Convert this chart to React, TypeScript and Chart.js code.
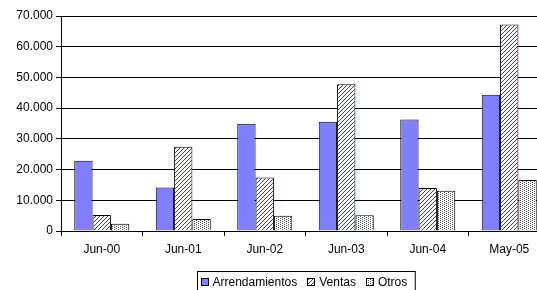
import { useEffect, useRef } from 'react';
import { Chart, registerables } from 'chart.js';

Chart.register(...registerables);

const categories = ['Jun-00', 'Jun-01', 'Jun-02', 'Jun-03', 'Jun-04', 'May-05'];
const arrendamientos = [22900, 14200, 34900, 35600, 36300, 44400];
const ventas = [5200, 27400, 17400, 47800, 14000, 67200];
const otros = [2400, 3900, 5000, 5100, 13100, 16600];
const seriesNames = ['Arrendamientos', 'Ventas', 'Otros'];
const yMin = 0;
const yMax = 70000;
const yStep = 10000;

const FONT = '"Liberation Sans", Arial, sans-serif';

function fmt(v: number): string {
  return String(Math.round(v)).replace(/\B(?=(\d{3})+(?!\d))/g, '.');
}

function makePattern(kind: 'ventas' | 'otros'): CanvasPattern | string {
  const c = document.createElement('canvas');
  const x = c.getContext('2d');
  if (!x) return '#ccc';
  if (kind === 'ventas') {
    c.width = 4;
    c.height = 4;
    x.fillStyle = '#ffffff';
    x.fillRect(0, 0, 4, 4);
    x.fillStyle = '#a02060';
    for (let i = 0; i < 4; i++) x.fillRect(3 - i, i, 1, 1);
  } else {
    c.width = 4;
    c.height = 2;
    x.fillStyle = '#ffffff';
    x.fillRect(0, 0, 4, 2);
    x.fillStyle = '#555555';
    x.fillRect(0, 0, 1, 1);
    x.fillRect(2, 1, 1, 1);
  }
  const p = x.createPattern(c, 'repeat');
  return p || '#ccc';
}

export default function App() {
  const ref = useRef<HTMLCanvasElement | null>(null);

  useEffect(() => {
    if (!ref.current) return;
    const fills: (CanvasPattern | string)[] = ['#8080ff', makePattern('ventas'), makePattern('otros')];
    const values = [arrendamientos, ventas, otros];

    const legendPlugin = {
      id: 'boxLegend',
      afterDraw(chart: any) {
        const ctx = chart.ctx as CanvasRenderingContext2D;
        const area = chart.chartArea;
        ctx.save();
        ctx.font = '12px ' + FONT;
        const padL = 3, padR = 8, mark = 7, gapMT = 5, gapItem = 10;
        const widths = seriesNames.map((n) => ctx.measureText(n).width);
        let total = padL + padR;
        widths.forEach((w, i) => {
          total += mark + gapMT + w + (i < widths.length - 1 ? gapItem : 0);
        });
        const cx = (area.left + area.right) / 2;
        const left = Math.round(cx - total / 2) + 0.5;
        const top = 271.5;
        ctx.strokeStyle = '#000';
        ctx.lineWidth = 1;
        ctx.fillStyle = '#fff';
        ctx.fillRect(left, top, total, 22);
        ctx.strokeRect(left, top, total, 22);
        let x = left + padL;
        seriesNames.forEach((n, i) => {
          const mx = Math.round(x) + 0.5;
          ctx.fillStyle = fills[i] as any;
          ctx.fillRect(mx, 278.5, mark, mark);
          ctx.strokeStyle = '#000';
          ctx.strokeRect(mx, 278.5, mark, mark);
          x += mark + gapMT;
          ctx.fillStyle = '#000';
          ctx.textBaseline = 'alphabetic';
          ctx.textAlign = 'left';
          ctx.fillText(n, x, 286);
          x += widths[i] + gapItem;
        });
        ctx.restore();
      },
    };

    const chart = new Chart(ref.current, {
      type: 'bar',
      data: {
        labels: categories,
        datasets: seriesNames.map((name, i) => ({
          label: name,
          data: values[i],
          backgroundColor: fills[i] as any,
          borderColor: '#000',
          borderWidth: 1,
          barPercentage: 1,
          categoryPercentage: 0.675,
        })),
      },
      options: {
        responsive: false,
        animation: false,
        devicePixelRatio: 1,
        layout: { padding: { top: 16, left: 0, right: 10, bottom: 19 } },
        plugins: {
          legend: { display: false },
          tooltip: { enabled: false },
        },
        scales: {
          x: {
            offset: true,
            grid: {
              display: true,
              drawOnChartArea: false,
              drawTicks: true,
              tickLength: 5,
              color: '#000',
              offset: true,
            },
            border: { color: '#000', width: 1 },
            ticks: {
              color: '#000',
              font: { family: FONT, size: 12 },
              padding: 6,
              maxRotation: 0,
            },
            afterFit(scale: any) {
              scale.height = 40;
            },
          },
          y: {
            min: yMin,
            max: yMax,
            grid: {
              color: '#000',
              lineWidth: 1,
              drawTicks: true,
              tickLength: 5,
            },
            border: { color: '#000', width: 1 },
            ticks: {
              stepSize: yStep,
              color: '#000',
              font: { family: FONT, size: 12 },
              padding: 3,
              callback: (v: any) => fmt(Number(v)),
            },
            afterFit(scale: any) {
              scale.width = 61;
            },
          },
        },
      },
      plugins: [legendPlugin],
    });
    return () => chart.destroy();
  }, []);

  return (
    <div style={{ position: 'absolute', left: 0, top: 0, width: 537, height: 290, overflow: 'hidden', background: '#fff' }}>
      <canvas ref={ref} width={560} height={290} style={{ display: 'block', width: 560, height: 290 }} />
    </div>
  );
}
